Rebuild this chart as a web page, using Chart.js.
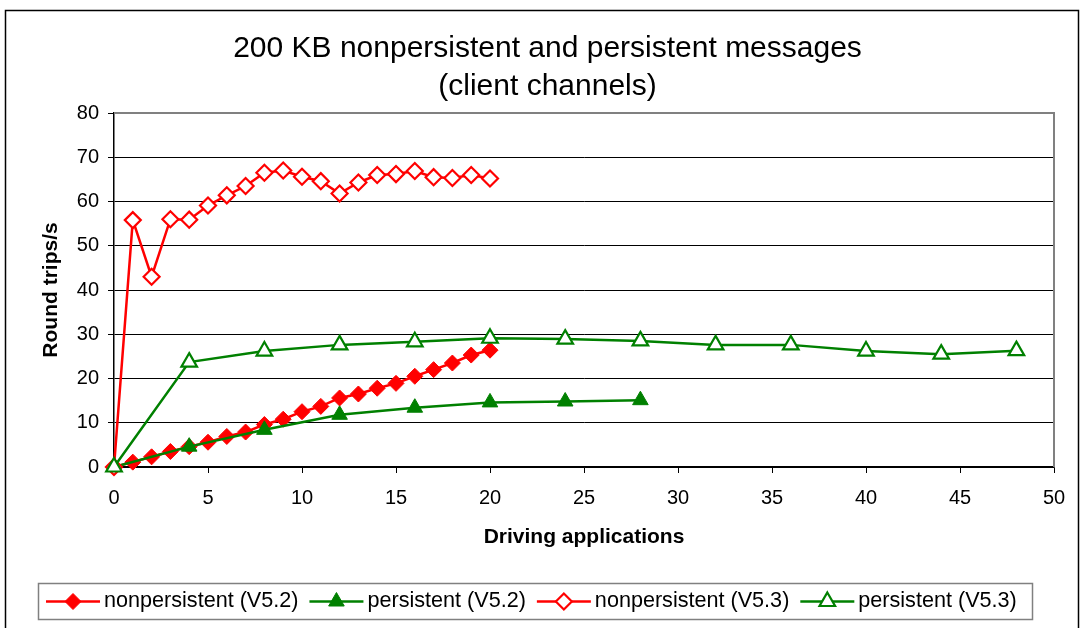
<!DOCTYPE html>
<html>
<head>
<meta charset="utf-8">
<title>200 KB nonpersistent and persistent messages</title>
<script src="https://cdn.jsdelivr.net/npm/chart.js@4.4.1/dist/chart.umd.min.js"></script>
<style>
    body { margin: 0; background: #fff; }
    #chartBox { width: 1082px; height: 628px; }
</style>
</head>
<body>
<div id="chartBox"><canvas id="chartCanvas" width="1082" height="628"></canvas></div>
<script>
// values
const titleLines = ["200 KB nonpersistent and persistent messages", "(client channels)"];
const xAxisTitle = "Driving applications";
const yAxisTitle = "Round trips/s";

const nonpersV52Apps = [0, 1, 2, 3, 4, 5, 6, 7, 8, 9, 10, 11, 12, 13, 14, 15, 16, 17, 18, 19, 20];
const nonpersV52 = [0, 1.1, 2.3, 3.5, 4.6, 5.6, 6.9, 7.9, 9.6, 10.8, 12.5, 13.7, 15.6, 16.5, 17.8, 18.9, 20.5, 22.0, 23.5, 25.3, 26.4];

const persV52Apps = [0, 4, 8, 12, 16, 20, 24, 28];
const persV52 = [0, 4.6, 8.4, 11.8, 13.4, 14.6, 14.8, 15.1];

const nonpersV53Apps = [0, 1, 2, 3, 4, 5, 6, 7, 8, 9, 10, 11, 12, 13, 14, 15, 16, 17, 18, 19, 20];
const nonpersV53 = [0, 55.8, 43.0, 56.0, 55.9, 59.1, 61.4, 63.5, 66.5, 67.0, 65.6, 64.6, 61.8, 64.3, 66.0, 66.2, 66.9, 65.5, 65.3, 66.0, 65.2];

const persV53Apps = [0, 4, 8, 12, 16, 20, 24, 28, 32, 36, 40, 44, 48];
const persV53 = [0, 23.7, 26.2, 27.6, 28.3, 29.1, 28.9, 28.5, 27.6, 27.6, 26.2, 25.5, 26.3];

const seriesLabels = ["nonpersistent (V5.2)", "persistent (V5.2)", "nonpersistent (V5.3)", "persistent (V5.3)"];

const RED = "#ff0000";
const GREEN = "#008000";
const FONT = "'Liberation Sans', Arial, Helvetica, sans-serif";

Chart.defaults.font.family = FONT;
Chart.defaults.color = "#000";

function toPoints(xs, ys) {
    return xs.map((x, i) => ({ x: x, y: ys[i] }));
}

function makeSeries(label, xs, ys, color, style, filled, order) {
    return {
        label: label,
        data: toPoints(xs, ys),
        borderColor: color,
        backgroundColor: filled ? color : "#fff",
        borderWidth: 2.5,
        pointStyle: style,
        pointRadius: style === "triangle" ? 9 : 8,
        pointBorderColor: color,
        pointBackgroundColor: filled ? color : "#fff",
        pointBorderWidth: filled ? 1 : 2.2,
        tension: 0,
        clip: false,
        order: order,
    };
}

function drawMarker(ctx, style, r, x, y, fill, stroke, bw) {
    ctx.beginPath();
    if (style === "rectRot") {
        ctx.moveTo(x - r, y);
        ctx.lineTo(x, y - r);
        ctx.lineTo(x + r, y);
        ctx.lineTo(x, y + r);
    } else {
        for (let k = 0; k < 3; k++) {
            let a = k * 2 * Math.PI / 3;
            let px = x + Math.sin(a) * r;
            let py = y - Math.cos(a) * r;
            if (k === 0) ctx.moveTo(px, py);
            else ctx.lineTo(px, py);
        }
    }
    ctx.closePath();
    ctx.fillStyle = fill;
    ctx.fill();
    ctx.strokeStyle = stroke;
    ctx.lineWidth = bw;
    ctx.stroke();
}

// outer border, grey plot frame and the boxed legend
const framePlugin = {
    id: "frame",
    beforeDatasetsDraw(chart) {
        const ctx = chart.ctx;
        const a = chart.chartArea;
        ctx.save();
        ctx.strokeStyle = "#808080";
        ctx.lineWidth = 2;
        ctx.beginPath();
        ctx.moveTo(a.left, a.top);
        ctx.lineTo(a.right, a.top);
        ctx.lineTo(a.right, a.bottom);
        ctx.stroke();
        ctx.restore();
    },
    afterDraw(chart) {
        const ctx = chart.ctx;
        ctx.save();
        ctx.strokeStyle = "#000";
        ctx.lineWidth = 1.5;
        ctx.strokeRect(5.5, 10.5, 1073, 640);

        ctx.strokeStyle = "#808080";
        ctx.lineWidth = 1.5;
        ctx.strokeRect(38.5, 583.5, 994, 36);

        ctx.font = "21.6px " + FONT;
        ctx.textBaseline = "middle";
        ctx.textAlign = "left";
        let x = 46;
        const y = 601.5;
        chart.data.datasets.forEach((ds) => {
            ctx.strokeStyle = ds.borderColor;
            ctx.lineWidth = 2.5;
            ctx.beginPath();
            ctx.moveTo(x, y);
            ctx.lineTo(x + 54, y);
            ctx.stroke();
            drawMarker(ctx, ds.pointStyle, ds.pointRadius, x + 27, y, ds.pointBackgroundColor, ds.pointBorderColor, ds.pointBorderWidth);
            ctx.fillStyle = "#000";
            ctx.fillText(ds.label, x + 58, y);
            x += 58 + ctx.measureText(ds.label).width + 11;
        });
        ctx.restore();
    },
};

const ctx = document.getElementById("chartCanvas").getContext("2d");

new Chart(ctx, {
    type: "line",
    data: {
        datasets: [
            makeSeries(seriesLabels[0], nonpersV52Apps, nonpersV52, RED, "rectRot", true, 4),
            makeSeries(seriesLabels[1], persV52Apps, persV52, GREEN, "triangle", true, 3),
            makeSeries(seriesLabels[2], nonpersV53Apps, nonpersV53, RED, "rectRot", false, 2),
            makeSeries(seriesLabels[3], persV53Apps, persV53, GREEN, "triangle", false, 1),
        ],
    },
    options: {
        responsive: false,
        animation: false,
        layout: { padding: { left: 41, right: 28, top: 0, bottom: 71 } },
        plugins: {
            legend: { display: false },
            tooltip: { enabled: false },
            title: {
                display: true,
                text: titleLines,
                color: "#000",
                font: { size: 30, weight: "normal", lineHeight: 1.267 },
                padding: { top: 30, bottom: 7 },
            },
        },
        scales: {
            x: {
                type: "linear",
                min: 0,
                max: 50,
                ticks: { stepSize: 5, color: "#000", font: { size: 20 }, padding: 13, maxRotation: 0 },
                grid: { drawOnChartArea: false, tickLength: 6, tickColor: "#000" },
                border: { color: "#000", width: 1.5 },
                title: {
                    display: true,
                    text: xAxisTitle,
                    color: "#000",
                    font: { size: 21, weight: "bold" },
                    padding: { top: 0, bottom: 7 },
                },
                afterFit(scale) { scale.height = 90; },
            },
            y: {
                type: "linear",
                min: 0,
                max: 80,
                ticks: { stepSize: 10, color: "#000", font: { size: 20 }, padding: 9 },
                grid: { color: "#000", lineWidth: 1, tickLength: 6, tickColor: "#000" },
                border: { color: "#000", width: 1.5 },
                title: {
                    display: true,
                    text: yAxisTitle,
                    color: "#000",
                    font: { size: 21, weight: "bold", lineHeight: 1 },
                    padding: { top: 0, bottom: 0 },
                },
                afterFit(scale) { scale.width = 73; },
            },
        },
    },
    plugins: [framePlugin],
});
</script>
</body>
</html>
